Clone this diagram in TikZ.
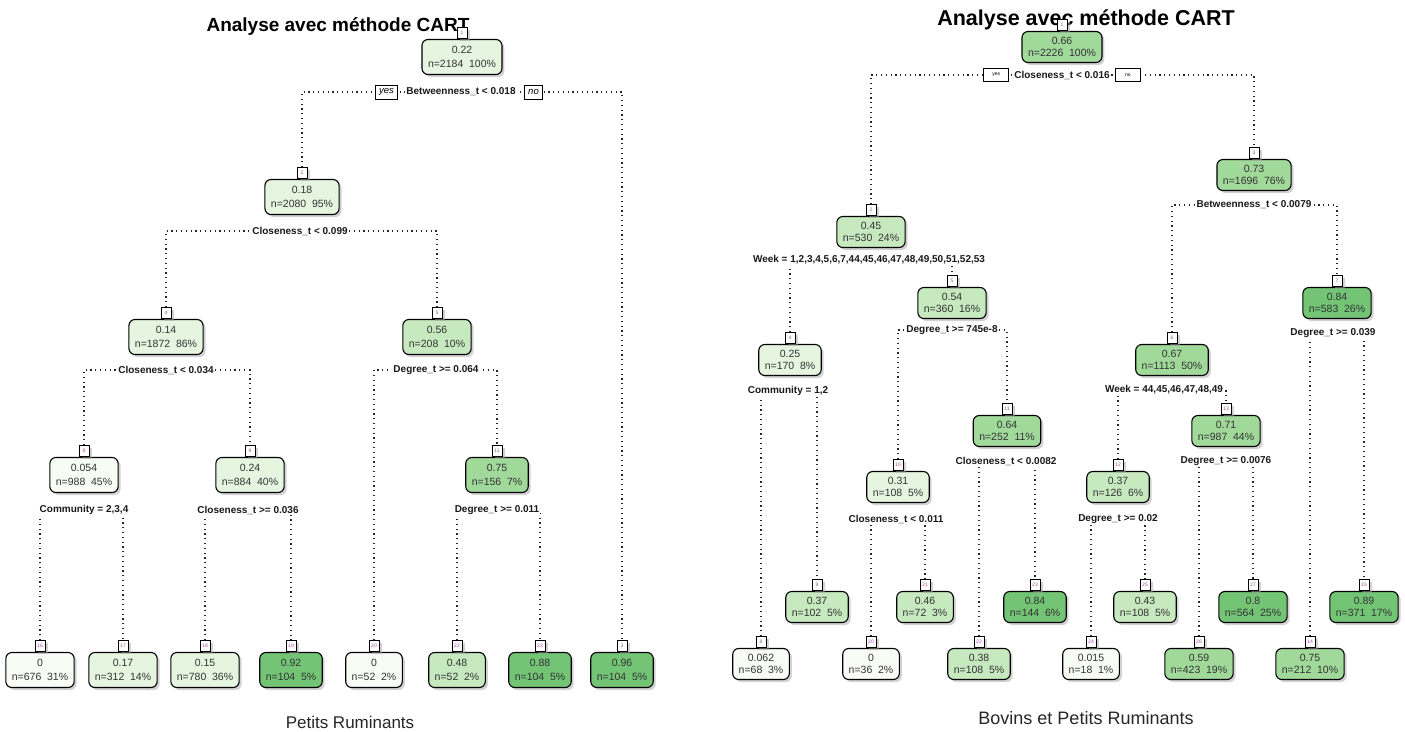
\documentclass[tikz,border=0pt]{standalone}
\usepackage{fontspec}
\setmainfont{Liberation Sans}
\usetikzlibrary{shadows}
\definecolor{g0}{HTML}{F7FCF5}
\definecolor{g1}{HTML}{E5F5E0}
\definecolor{g2}{HTML}{C7E9C0}
\definecolor{g3}{HTML}{A1D99B}
\definecolor{g4}{HTML}{74C476}
\pgfdeclarelayer{bg}
\pgfsetlayers{bg,main}
\tikzset{
  shad/.style={drop shadow={shadow xshift=2.5pt, shadow yshift=-2.5pt, fill=black!35}},
  lbox/.style={draw, line width=1.1pt, rounded corners=6pt, align=center,
    font=\fontsize{10.5}{13.5}\selectfont, text=black!80, inner xsep=6pt, inner ysep=2pt,
    minimum height=35pt, shad},
  rbox/.style={lbox, minimum height=31pt, font=\fontsize{10.5}{12.5}\selectfont},
  tab/.style={draw, fill=white, line width=0.8pt, minimum width=10pt, minimum height=11pt,
    inner sep=1pt, font=\fontsize{5}{5}\selectfont, text=violet!70, shad},
  split/.style={fill=white, inner sep=1pt, text=black!90,
    font=\bfseries\fontsize{10}{12}\selectfont},
  edge/.style={line width=1.2pt, black!85, dash pattern=on 1.2pt off 3.6pt},
  lyn/.style={draw, fill=white, line width=0.8pt, inner xsep=4pt, minimum height=14pt,
    font=\itshape\fontsize{9.5}{10}\selectfont},
  ryn/.style={draw, fill=white, line width=0.8pt, inner sep=1pt, minimum width=25pt,
    minimum height=13pt, font=\fontsize{5}{6}\selectfont},
  title/.style={font=\bfseries\fontsize{19}{22}\selectfont},
  caption/.style={font=\fontsize{17}{20}\selectfont, text=black!85}
}
% name, style, position, fill, value, n, pct, number
\newcommand\tn[8]{%
  \node[#2, fill=#4] (#1) at (#3) {#5\\n=#6\hspace{0.55em}#7\%};
  \node[tab, anchor=south] (#1t) at (#1.north) {#8};
}
\newcommand\br[3]{\draw[edge] (#2t.north) |- (#1.center) -| (#3t.north);}
\begin{document}
\begin{tikzpicture}[x=1pt,y=-1pt]
\useasboundingbox (0,0) rectangle (1405,731);

% ---------------- left tree ----------------
\node[title] (LT) at (338,27) {Analyse avec méthode CART};
\tn{L1}{lbox}{462,57}{g1}{0.22}{2184}{100}{1}
\node[split] (L1s) at (461,92) {Betweenness\_t < 0.018};
\node[lyn, anchor=east] (L1yes) at ([xshift=-7pt]L1s.west) {yes};
\node[lyn, anchor=west] (L1no) at ([xshift=7pt]L1s.east) {no};
\tn{L2}{lbox}{302,197}{g1}{0.18}{2080}{95}{2}
\node[split] (L2s) at (300,231) {Closeness\_t < 0.099};
\tn{L4}{lbox}{166,337}{g1}{0.14}{1872}{86}{4}
\node[split] (L4s) at (166,370) {Closeness\_t < 0.034};
\tn{L5}{lbox}{437,337}{g2}{0.56}{208}{10}{5}
\node[split] (L5s) at (436,370) {Degree\_t >= 0.064};
\tn{L8}{lbox}{84,475}{g0}{0.054}{988}{45}{8}
\node[split] (L8s) at (84,510) {Community = 2,3,4};
\tn{L9}{lbox}{250,475}{g1}{0.24}{884}{40}{9}
\node[split] (L9s) at (248,510) {Closeness\_t >= 0.036};
\tn{L11}{lbox}{497,475}{g3}{0.75}{156}{7}{11}
\node[split] (L11s) at (497,510) {Degree\_t >= 0.011};
\tn{L16}{lbox}{40,670}{g0}{0}{676}{31}{16}
\tn{L17}{lbox}{123,670}{g1}{0.17}{312}{14}{17}
\tn{L18}{lbox}{205,670}{g1}{0.15}{780}{36}{18}
\tn{L19}{lbox}{291,670}{g4}{0.92}{104}{5}{19}
\tn{L20}{lbox}{374,670}{g0}{0}{52}{2}{20}
\tn{L22}{lbox}{457,670}{g2}{0.48}{52}{2}{22}
\tn{L23}{lbox}{540,670}{g4}{0.88}{104}{5}{23}
\tn{L3}{lbox}{622,670}{g4}{0.96}{104}{5}{3}
\node[caption] (LC) at (350,722) {Petits Ruminants};

% ---------------- right tree ----------------
\node[title, font=\bfseries\fontsize{21.5}{24}\selectfont] (RT) at (1086,20) {Analyse avec méthode CART};
\tn{R1}{rbox}{1062,47}{g3}{0.66}{2226}{100}{1}
\node[split] (R1s) at (1062,75) {Closeness\_t < 0.016};
\node[ryn, anchor=east] (R1yes) at ([xshift=-4pt]R1s.west) {yes};
\node[ryn, anchor=west] (R1no) at ([xshift=4pt]R1s.east) {no};
\tn{R2}{rbox}{871,232}{g2}{0.45}{530}{24}{2}
\node[split] (R2s) at (869,260) {Week = 1,2,3,4,5,6,7,44,45,46,47,48,49,50,51,52,53};
\tn{R4}{rbox}{790,360}{g1}{0.25}{170}{8}{4}
\node[split] (R4s) at (788,391) {Community = 1,2};
\tn{R5}{rbox}{952,303}{g2}{0.54}{360}{16}{5}
\node[split] (R5s) at (952,330) {Degree\_t >= 745e-8};
\tn{R10}{rbox}{898,487}{g1}{0.31}{108}{5}{10}
\node[split] (R10s) at (896,519) {Closeness\_t < 0.011};
\tn{R11}{rbox}{1007,431}{g3}{0.64}{252}{11}{11}
\node[split] (R11s) at (1006,461) {Closeness\_t < 0.0082};
\tn{R3}{rbox}{1254,175}{g3}{0.73}{1696}{76}{3}
\node[split] (R3s) at (1254,205) {Betweenness\_t < 0.0079};
\tn{R6}{rbox}{1172,360}{g3}{0.67}{1113}{50}{6}
\node[split] (R6s) at (1164,390) {Week = 44,45,46,47,48,49};
\tn{R7}{rbox}{1337,303}{g4}{0.84}{583}{26}{7}
\node[split] (R7s) at (1333,333) {Degree\_t >= 0.039};
\tn{R12}{rbox}{1118,487}{g2}{0.37}{126}{6}{12}
\node[split] (R12s) at (1118,519) {Degree\_t >= 0.02};
\tn{R13}{rbox}{1226,431}{g3}{0.71}{987}{44}{13}
\node[split] (R13s) at (1226,461) {Degree\_t >= 0.0076};
% upper leaves
\tn{R9}{rbox}{817,607}{g2}{0.37}{102}{5}{9}
\tn{R21}{rbox}{925,607}{g2}{0.46}{72}{3}{21}
\tn{R23}{rbox}{1035,607}{g4}{0.84}{144}{6}{23}
\tn{R25}{rbox}{1145,607}{g2}{0.43}{108}{5}{25}
\tn{R27}{rbox}{1253,607}{g4}{0.8}{564}{25}{27}
\tn{R15}{rbox}{1364,607}{g4}{0.89}{371}{17}{15}
% lower leaves
\tn{R8}{rbox}{761,664}{g0}{0.062}{68}{3}{8}
\tn{R20}{rbox}{871,664}{g0}{0}{36}{2}{20}
\tn{R22}{rbox}{979,664}{g2}{0.38}{108}{5}{22}
\tn{R24}{rbox}{1091,664}{g0}{0.015}{18}{1}{24}
\tn{R26}{rbox}{1199,664}{g3}{0.59}{423}{19}{26}
\tn{R14}{rbox}{1310,664}{g3}{0.75}{212}{10}{14}
\node[caption, font=\fontsize{18}{21}\selectfont] (RC) at (1086,718) {Bovins et Petits Ruminants};

% ---------------- connectors ----------------
\begin{pgfonlayer}{bg}
\br{L1s}{L2}{L3}
\br{L2s}{L4}{L5}
\br{L4s}{L8}{L9}
\br{L5s}{L20}{L11}
\br{L8s}{L16}{L17}
\br{L9s}{L18}{L19}
\br{L11s}{L22}{L23}
\br{R1s}{R2}{R3}
\br{R2s}{R4}{R5}
\br{R4s}{R8}{R9}
\br{R5s}{R10}{R11}
\br{R10s}{R20}{R21}
\br{R11s}{R22}{R23}
\br{R3s}{R6}{R7}
\br{R6s}{R12}{R13}
\br{R7s}{R14}{R15}
\br{R12s}{R24}{R25}
\br{R13s}{R26}{R27}
\end{pgfonlayer}
\end{tikzpicture}
\end{document}
